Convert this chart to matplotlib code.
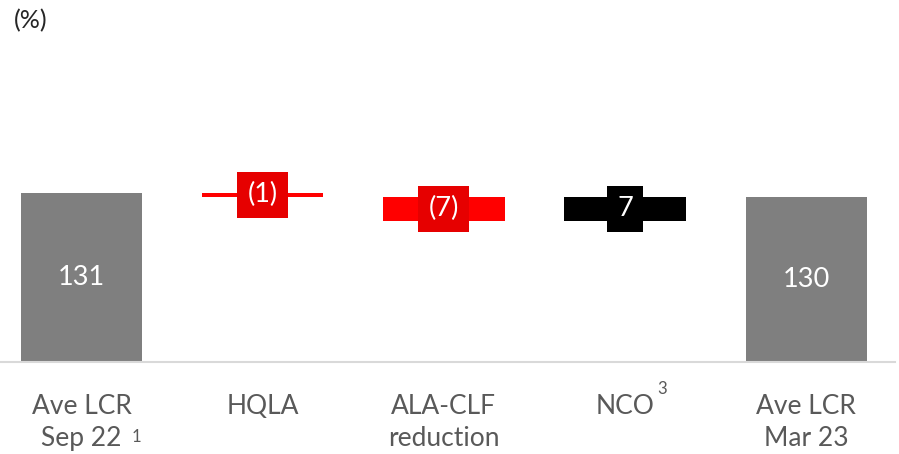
import matplotlib
matplotlib.use("Agg")
import matplotlib.pyplot as plt

plt.rcParams['font.family'] = ['Lato', 'DejaVu Sans']

# data
categories = ["Ave LCR\nSep 22", "HQLA", "ALA-CLF\nreduction", "NCO", "Ave LCR\nMar 23"]
values = [131, -1, -7, 7, 130]
is_total = [True, False, False, False, True]
value_labels = ["131", "(1)", "(7)", "7", "130"]
footnotes = {0: "1", 3: "3"}

GRAY = "#7f7f7f"
RED = "#ff0000"
RED_BOX = "#e60000"
BLACK = "#000000"
TEXT_GRAY = "#595959"

y_min, y_max = 82.7, 177.6

fig = plt.figure(figsize=(8.99, 4.54), dpi=100)
ax = fig.add_axes([0, (454 - 362) / 454, 895 / 899, (362 - 30) / 454])

x = list(range(len(categories)))
running = 0
for i, (v, tot) in enumerate(zip(values, is_total)):
    if tot:
        ax.bar(i, v, width=0.67, color=GRAY)
        running = v
        ax.text(i, (y_min + v) / 2, value_labels[i], ha="center", va="center",
                color="white", fontsize=19.5)
    else:
        start = running
        running = running + v
        bottom = min(start, running)
        col = RED if v < 0 else BLACK
        box = RED_BOX if v < 0 else BLACK
        ax.bar(i, abs(v), bottom=bottom, width=0.67, color=col)
        ax.text(i, bottom + abs(v) / 2, value_labels[i], ha="center", va="center",
                color="white", fontsize=19.5,
                bbox=dict(boxstyle="square,pad=0.38", fc=box, ec="none"))

ax.set_xlim(-0.45, 4.49)
ax.set_ylim(y_min, y_max)
ax.set_xticks(x)
ax.set_xticklabels(categories, fontsize=19, color=TEXT_GRAY, linespacing=1.35)
ax.tick_params(axis="x", length=0, pad=23)
ax.set_yticks([])
for s in ["top", "right", "left"]:
    ax.spines[s].set_visible(False)
ax.spines["bottom"].set_color("#d9d9d9")
ax.spines["bottom"].set_linewidth(1.5)

# footnote markers next to the tick labels
ax.annotate(footnotes[0], xy=(0, 0), xycoords=("data", "axes fraction"),
            xytext=(55, -75), textcoords="offset pixels",
            fontsize=12, color=TEXT_GRAY, ha="center", va="center")
ax.annotate(footnotes[3], xy=(3, 0), xycoords=("data", "axes fraction"),
            xytext=(37, -27), textcoords="offset pixels",
            fontsize=12, color=TEXT_GRAY, ha="center", va="center")

fig.text(14 / 899, 1 - 21 / 454, "(%)", fontsize=18, color="#262626",
         ha="left", va="center")

fig.savefig("out.png", dpi=100)
